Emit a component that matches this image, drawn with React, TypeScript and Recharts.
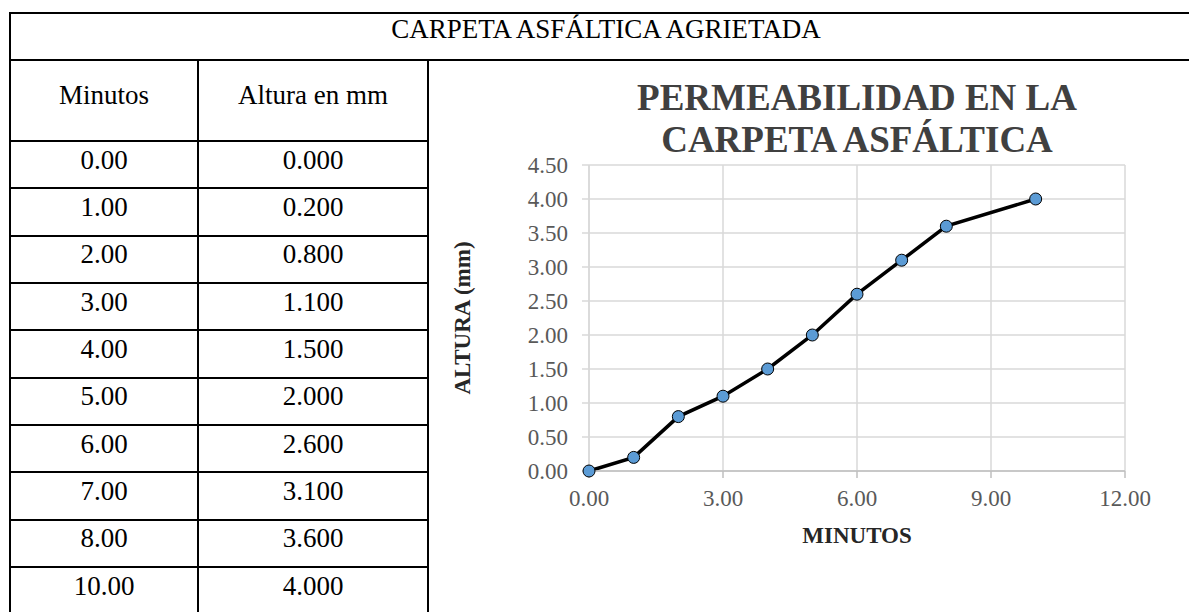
import { LineChart, Line, XAxis, YAxis, CartesianGrid } from 'recharts';

const minutos = [0, 1, 2, 3, 4, 5, 6, 7, 8, 10];
const altura = [0, 0.2, 0.8, 1.1, 1.5, 2.0, 2.6, 3.1, 3.6, 4.0];
const xTicks = [0, 3, 6, 9, 12];
const yTicks = [0, 0.5, 1, 1.5, 2, 2.5, 3, 3.5, 4, 4.5];

const tableTitle = 'CARPETA ASFÁLTICA AGRIETADA';
const headers = ['Minutos', 'Altura en mm'];
const chartTitle = ['PERMEABILIDAD EN LA', 'CARPETA ASFÁLTICA'];

const chartData = minutos.map((m, i) => ({ min: m, alt: altura[i] }));

const FONT = '"Liberation Serif", "Times New Roman", serif';

// cell with a 2px border, coordinates are the line centres
function Cell({ x0, y0, x1, y1, pb, size = 27, children }: any) {
  return (
    <div
      style={{
        position: 'absolute',
        left: x0 - 1,
        top: y0 - 1,
        width: x1 - x0 + 2,
        height: y1 - y0 + 2,
        border: '2px solid #000',
        boxSizing: 'border-box',
        display: 'flex',
        alignItems: 'center',
        justifyContent: 'center',
        paddingBottom: pb,
        fontSize: size,
        color: '#000',
      }}
    >
      {children}
    </div>
  );
}

const yTitle = (props: any) => {
  const vb = props.viewBox;
  const cy = vb.y + vb.height / 2;
  const cx = 32;
  return (
    <text
      x={cx}
      y={cy}
      transform={`rotate(-90, ${cx}, ${cy})`}
      textAnchor="middle"
      dominantBaseline="central"
      fontFamily={FONT}
      fontWeight="bold"
      fontSize={23}
      fill="#262626"
    >
      ALTURA (mm)
    </text>
  );
};

const xTitle = (props: any) => {
  const vb = props.viewBox;
  return (
    <text
      x={vb.x + vb.width / 2}
      y={vb.y + 64}
      textAnchor="middle"
      dominantBaseline="central"
      fontFamily={FONT}
      fontWeight="bold"
      fontSize={23}
      fill="#262626"
    >
      MINUTOS
    </text>
  );
};

export default function App() {
  const rowTop = 141;
  const rowH = 47.33;
  return (
    <div
      style={{
        position: 'absolute',
        left: 0,
        top: 0,
        width: 1189,
        height: 612,
        overflow: 'hidden',
        background: '#fff',
        fontFamily: FONT,
      }}
    >
      <Cell x0={10} y0={13} x1={1202} y1={60} pb={15}>
        {tableTitle}
      </Cell>
      <Cell x0={10} y0={60} x1={198} y1={141} pb={11}>
        {headers[0]}
      </Cell>
      <Cell x0={198} y0={60} x1={428} y1={141} pb={11}>
        {headers[1]}
      </Cell>
      <Cell x0={428} y0={60} x1={1202} y1={640} />
      {minutos.map((m, i) => (
        <div key={i}>
          <Cell x0={10} y0={rowTop + i * rowH} x1={198} y1={rowTop + (i + 1) * rowH} pb={9}>
            {m.toFixed(2)}
          </Cell>
          <Cell x0={198} y0={rowTop + i * rowH} x1={428} y1={rowTop + (i + 1) * rowH} pb={9}>
            {altura[i].toFixed(3)}
          </Cell>
        </div>
      ))}

      <div
        style={{
          position: 'absolute',
          left: 557,
          top: 77,
          width: 600,
          textAlign: 'center',
          fontSize: 37,
          lineHeight: '42px',
          fontWeight: 'bold',
          color: '#404040',
        }}
      >
        {chartTitle[0]}
        <br />
        {chartTitle[1]}
      </div>

      <div style={{ position: 'absolute', left: 430, top: 62 }}>
        <LineChart
          width={759}
          height={550}
          data={chartData}
          margin={{ top: 103, right: 64, left: 0, bottom: 81 }}
        >
          <CartesianGrid stroke="#d9d9d9" strokeWidth={1.5} />
          <XAxis
            type="number"
            dataKey="min"
            domain={[0, 12]}
            ticks={xTicks}
            tickFormatter={(v: number) => v.toFixed(2)}
            height={60}
            stroke="#bfbfbf"
            strokeWidth={1.5}
            tickSize={7}
            tickMargin={12}
            tick={{ fill: '#595959', fontSize: 23, fontFamily: FONT }}
            label={xTitle}
          />
          <YAxis
            type="number"
            domain={[0, 4.5]}
            ticks={yTicks}
            tickFormatter={(v: number) => v.toFixed(2)}
            width={159}
            stroke="#d9d9d9"
            strokeWidth={1.5}
            tickSize={7}
            tickMargin={14}
            tick={{ fill: '#595959', fontSize: 23, fontFamily: FONT }}
            label={yTitle}
          />
          <Line
            type="linear"
            dataKey="alt"
            stroke="#000"
            strokeWidth={3.5}
            dot={{ r: 6, fill: '#5b9bd5', stroke: '#000', strokeWidth: 1 }}
            isAnimationActive={false}
          />
        </LineChart>
      </div>
    </div>
  );
}
